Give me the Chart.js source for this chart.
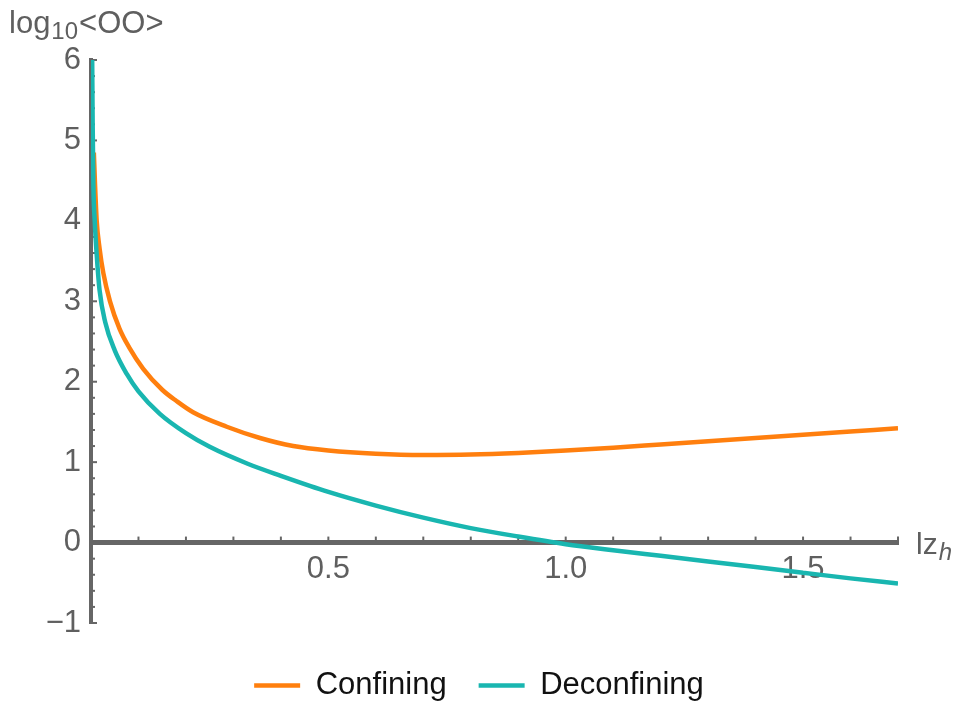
<!DOCTYPE html>
<html>
<head>
<meta charset="utf-8">
<script src="https://cdn.jsdelivr.net/npm/chart.js@4.4.1/dist/chart.umd.min.js"></script>
<style>
  html, body { margin: 0; padding: 0; background: #fff; }
  #wrap { width: 958px; height: 704px; position: relative; }
</style>
</head>
<body>
<div id="wrap"><canvas id="chart"></canvas></div>
<script>
// values
const seriesNames = ['Confining', 'Deconfining'];

const confiningX = [0.006, 0.0085, 0.012, 0.018, 0.026, 0.04, 0.06, 0.08, 0.11, 0.15, 0.18, 0.215, 0.286, 0.356, 0.426, 0.5, 0.6, 0.7, 0.8, 0.9, 1.0, 1.1, 1.2, 1.3, 1.4, 1.5, 1.6, 1.7];
const confiningY = [4.85, 4.45, 4.0, 3.66, 3.35, 3.0, 2.66, 2.43, 2.16, 1.9, 1.76, 1.62, 1.44, 1.30, 1.20, 1.145, 1.105, 1.09, 1.095, 1.115, 1.145, 1.18, 1.22, 1.26, 1.30, 1.34, 1.38, 1.42];

const deconfiningX = [0.0025, 0.0035, 0.005, 0.008, 0.012, 0.018, 0.03, 0.05, 0.075, 0.1, 0.145, 0.2, 0.25, 0.33, 0.4, 0.5, 0.6, 0.7, 0.8, 0.9, 1.0, 1.1, 1.2, 1.3, 1.4, 1.5, 1.6, 1.7];
const deconfiningY = [6.0, 5.2, 4.45, 3.98, 3.58, 3.14, 2.74, 2.39, 2.1, 1.88, 1.6, 1.36, 1.19, 0.98, 0.83, 0.63, 0.46, 0.31, 0.18, 0.075, -0.02, -0.095, -0.165, -0.235, -0.305, -0.375, -0.445, -0.51];

const xTickValues = [0.5, 1.0, 1.5];
const xTickLabels = ['0.5', '1.0', '1.5'];
const yTickValues = [-1, 0, 1, 2, 3, 4, 5, 6];
const yTickLabels = ['\u22121', '0', '1', '2', '3', '4', '5', '6'];

const FONT = '"Liberation Sans", Arial, sans-serif';
const AXIS_GREY = '#666666';
const TEXT_GREY = '#5f5f5f';

Chart.defaults.font.family = FONT;

function toPoints(xs, ys) {
    return xs.map((x, i) => ({ x: x, y: ys[i] }));
}

function labelFor(values, labels, v) {
    const i = values.findIndex(t => Math.abs(t - v) < 1e-6);
    return i < 0 ? '' : labels[i];
}

// small tick marks: x ticks point up from the axis, y ticks point right
const tickMarks = {
    id: 'tickMarks',
    beforeDatasetsDraw(chart) {
        const { ctx, scales: { x, y } } = chart;
        const y0 = y.getPixelForValue(0);
        const x0 = x.getPixelForValue(0);
        ctx.save();
        ctx.strokeStyle = AXIS_GREY;
        ctx.lineWidth = 2;
        x.ticks.forEach(t => {
            if (Math.abs(t.value) < 1e-6) return;
            const px = x.getPixelForValue(t.value);
            ctx.beginPath();
            ctx.moveTo(px, y0 - 2);
            ctx.lineTo(px, y0 - 6);
            ctx.stroke();
        });
        y.ticks.forEach(t => {
            const py = y.getPixelForValue(t.value);
            const major = Math.abs(t.value - Math.round(t.value)) < 1e-6;
            ctx.beginPath();
            ctx.moveTo(x0 + 1, py);
            ctx.lineTo(x0 + (major ? 6 : 4), py);
            ctx.stroke();
        });
        ctx.restore();
    }
};

// axis titles with subscripts
const axisText = {
    id: 'axisText',
    afterDraw(chart) {
        const { ctx, scales: { x, y } } = chart;
        ctx.save();
        ctx.fillStyle = TEXT_GREY;
        ctx.textBaseline = 'alphabetic';
        ctx.textAlign = 'left';

        let px = 9;
        const base = y.getPixelForValue(6) - 27;
        ctx.font = '31px ' + FONT;
        ctx.fillText('log', px, base);
        px += ctx.measureText('log').width + 1;
        ctx.font = '24px ' + FONT;
        ctx.fillText('10', px, base + 6);
        px += ctx.measureText('10').width + 1;
        ctx.font = '31px ' + FONT;
        ctx.fillText('<OO>', px, base);

        let qx = x.getPixelForValue(1.7) + 18;
        const qb = y.getPixelForValue(0) + 11;
        ctx.font = '30px ' + FONT;
        ctx.fillText('lz', qx, qb);
        qx += ctx.measureText('lz').width + 1;
        ctx.font = 'italic 24px ' + FONT;
        ctx.fillText('h', qx, qb + 6);
        ctx.restore();
    }
};

const chart = new Chart(document.getElementById('chart'), {
    type: 'line',
    data: {
        datasets: [{
            label: seriesNames[0],
            data: toPoints(confiningX, confiningY),
            borderColor: '#ff7f0e',
            backgroundColor: '#ff7f0e',
            borderWidth: 4.5,
            pointRadius: 0,
            pointStyle: 'line',
            pointBorderWidth: 4.5,
            cubicInterpolationMode: 'monotone',
            order: 2,
        }, {
            label: seriesNames[1],
            data: toPoints(deconfiningX, deconfiningY),
            borderColor: '#19b6b0',
            backgroundColor: '#19b6b0',
            borderWidth: 4.5,
            pointRadius: 0,
            pointStyle: 'line',
            pointBorderWidth: 4.5,
            cubicInterpolationMode: 'monotone',
            order: 1,
        }],
    },
    options: {
        responsive: true,
        maintainAspectRatio: false,
        animation: false,
        events: [],
        layout: { padding: { left: 0, right: 0, top: 60, bottom: -7 } },
        scales: {
            x: {
                type: 'linear',
                position: { y: 0 },
                min: 0,
                max: 1.7,
                grid: { display: false, drawTicks: true, tickLength: 0 },
                border: { display: true, color: AXIS_GREY, width: 5 },
                ticks: {
                    stepSize: 0.1,
                    autoSkip: false,
                    maxRotation: 0,
                    padding: 8,
                    color: TEXT_GREY,
                    font: { size: 31 },
                    callback: v => labelFor(xTickValues, xTickLabels, v),
                },
            },
            y: {
                type: 'linear',
                position: 'left',
                min: -1,
                max: 6,
                afterFit: s => { s.width = 91; },
                grid: { display: false, drawTicks: false },
                border: { display: true, color: AXIS_GREY, width: 4 },
                ticks: {
                    stepSize: 0.2,
                    autoSkip: false,
                    padding: 10,
                    color: TEXT_GREY,
                    font: { size: 31 },
                    callback: v => labelFor(yTickValues, yTickLabels, v),
                },
            },
            // empty scales that only reserve room around the plot
            padRight: {
                type: 'linear', axis: 'y', position: 'right', display: true,
                grid: { display: false, drawTicks: true, tickLength: 60 },
                border: { display: false }, ticks: { display: false },
            },
            padBottom: {
                type: 'linear', axis: 'x', position: 'bottom', display: true,
                grid: { display: false, drawTicks: true, tickLength: 15 },
                border: { display: false }, ticks: { display: false },
            },
        },
        plugins: {
            tooltip: { enabled: false },
            legend: {
                position: 'bottom',
                align: 'center',
                labels: {
                    usePointStyle: true,
                    pointStyleWidth: 46,
                    padding: 32,
                    color: '#111111',
                    font: { size: 31 },
                    sort: (a, b) => a.datasetIndex - b.datasetIndex,
                },
            },
        },
    },
    plugins: [tickMarks, axisText],
});
</script>
</body>
</html>
